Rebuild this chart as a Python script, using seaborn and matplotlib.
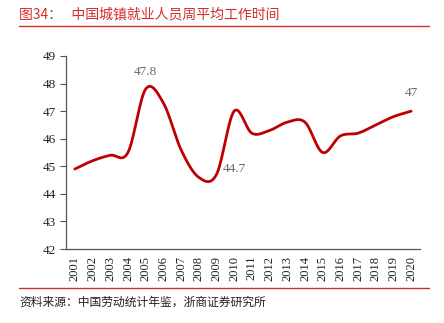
import numpy as np
import pandas as pd
import matplotlib
matplotlib.use("Agg")
import matplotlib.pyplot as plt
import seaborn as sns

years = ["2001", "2002", "2003", "2004", "2005", "2006", "2007", "2008", "2009", "2010",
         "2011", "2012", "2013", "2014", "2015", "2016", "2017", "2018", "2019", "2020"]
hours = [44.9, 45.2, 45.4, 45.5, 47.8, 47.3, 45.6, 44.6, 44.7, 47.0,
         46.2, 46.3, 46.6, 46.6, 45.5, 46.1, 46.2, 46.5, 46.8, 47.0]
y_ticks = [42, 43, 44, 45, 46, 47, 48, 49]
labels = {"2005": "47.8", "2009": "44.7", "2020": "47"}

title = "图34：   中国城镇就业人员周平均工作时间"
source = "资料来源：中国劳动统计年鉴，浙商证券研究所"

RED = "#C00000"
TITLE_RED = "#D42C2C"

sns.set_theme(style="white")
plt.rcParams["font.family"] = ["Noto Sans CJK SC", "DejaVu Sans"]


def catmull_rom(xs, ys, n=30):
    xs = np.asarray(xs, float)
    ys = np.asarray(ys, float)
    px = np.concatenate([[2 * xs[0] - xs[1]], xs, [2 * xs[-1] - xs[-2]]])
    py = np.concatenate([[2 * ys[0] - ys[1]], ys, [2 * ys[-1] - ys[-2]]])
    out_x, out_y = [], []
    t = np.linspace(0, 1, n, endpoint=False)
    for i in range(1, len(px) - 2):
        for arr, out in ((px, out_x), (py, out_y)):
            p0, p1, p2, p3 = arr[i - 1], arr[i], arr[i + 1], arr[i + 2]
            m1 = (p2 - p0) / 2
            m2 = (p3 - p1) / 2
            h00 = 2 * t**3 - 3 * t**2 + 1
            h10 = t**3 - 2 * t**2 + t
            h01 = -2 * t**3 + 3 * t**2
            h11 = t**3 - t**2
            out.extend(h00 * p1 + h10 * m1 + h01 * p2 + h11 * m2)
    out_x.append(xs[-1])
    out_y.append(ys[-1])
    return np.array(out_x), np.array(out_y)


pos = np.arange(len(years))
sx, sy = catmull_rom(pos, hours)
smooth = pd.DataFrame({"x": sx, "y": sy})

fig = plt.figure(figsize=(4.44, 3.23), dpi=100)
ax = fig.add_axes([66 / 444, 1 - 249 / 323, (420 - 66) / 444, (249 - 56) / 323])

sns.lineplot(data=smooth, x="x", y="y", ax=ax, color=RED, linewidth=2.0,
             sort=False, estimator=None)

ax.set_xlim(-0.5, len(years) - 0.5)
ax.set_ylim(y_ticks[0], y_ticks[-1])
ax.set_xlabel("")
ax.set_ylabel("")

serif = "Liberation Serif"
ax.set_yticks(y_ticks)
ax.set_yticklabels([str(v) for v in y_ticks], fontfamily=serif, fontsize=9.5, color="#222222")
ax.set_xticks(pos)
ax.set_xticklabels(years, rotation=90, fontfamily=serif, fontsize=9, color="#222222")
ax.set_xticks(np.arange(-0.5, len(years), 1.0), minor=True)
ax.tick_params(axis="x", which="major", length=0, pad=5)
ax.tick_params(axis="x", which="minor", length=4, width=0.8, color="#555555", direction="out")
ax.tick_params(axis="y", which="major", length=4, width=0.8, color="#555555", direction="out", pad=3, left=True)

for s in ["top", "right"]:
    ax.spines[s].set_visible(False)
for s in ["left", "bottom"]:
    ax.spines[s].set_color("#555555")
    ax.spines[s].set_linewidth(0.9)

offsets = {"2005": (0, 12), "2009": (13, 4), "2020": (0, 13)}
for yr, txt in labels.items():
    i = years.index(yr)
    ax.annotate(txt, xy=(pos[i], hours[i]), xytext=offsets[yr], textcoords="offset points",
                ha="center", va="center", fontfamily=serif, fontsize=9.5, color="#666666")

fig.text(19 / 444, 1 - 14 / 323, title, color=TITLE_RED, fontsize=10, va="center", ha="left")
fig.add_artist(plt.Line2D([19 / 444, 429 / 444], [1 - 26 / 323, 1 - 26 / 323], color=TITLE_RED, linewidth=1.0))
fig.add_artist(plt.Line2D([19 / 444, 429 / 444], [1 - 288 / 323, 1 - 288 / 323], color=TITLE_RED, linewidth=1.0))
fig.text(19 / 444, 1 - 302 / 323, source, color="#222222", fontsize=8.5, va="center", ha="left")

fig.savefig("out.png", dpi=100)
